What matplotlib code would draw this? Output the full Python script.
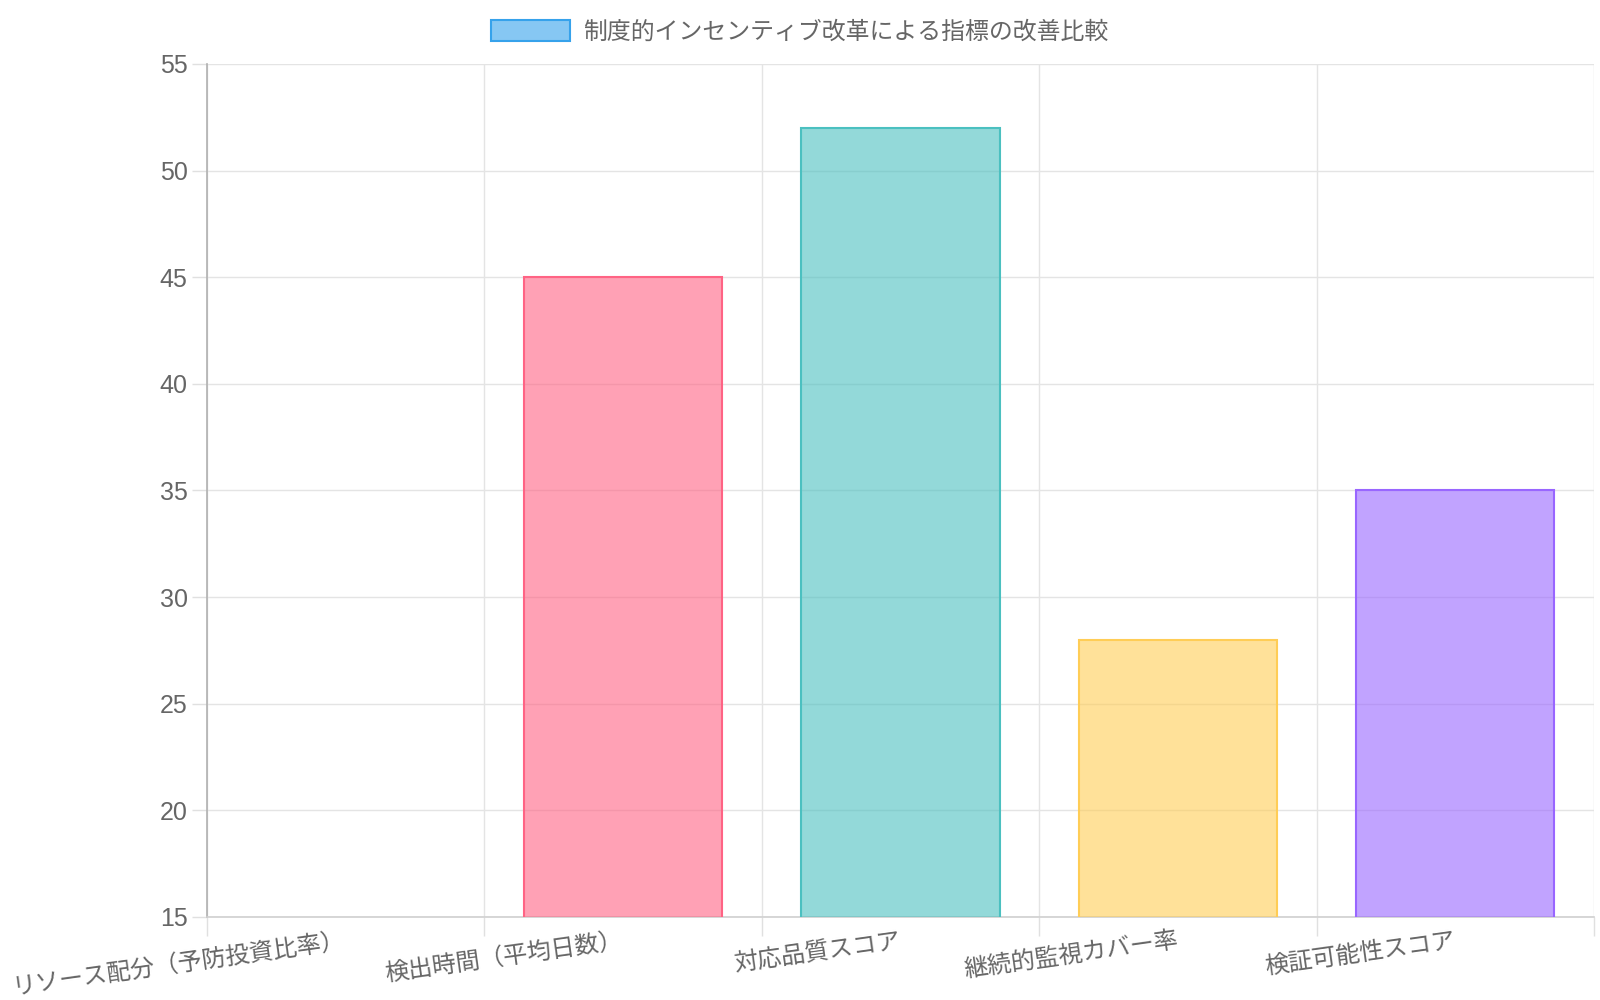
import numpy as np
import matplotlib.pyplot as plt
from matplotlib.patches import Patch

plt.rcParams['font.family'] = ['Liberation Sans', 'Noto Sans CJK JP', 'DejaVu Sans']

# データ
categories = [
    'リソース配分（予防投資比率）',
    '検出時間（平均日数）',
    '対応品質スコア',
    '継続的監視カバー率',
    '検証可能性スコア',
]
values = [12, 45, 52, 28, 35]
legend_label = '制度的インセンティブ改革による指標の改善比較'
yticks = [15, 20, 25, 30, 35, 40, 45, 50, 55]

fills = [
    (54/255, 162/255, 235/255, 0.6),
    (255/255, 99/255, 132/255, 0.6),
    (75/255, 192/255, 192/255, 0.6),
    (255/255, 205/255, 86/255, 0.6),
    (153/255, 102/255, 255/255, 0.6),
]
edges = ['#36a2eb', '#ff6384', '#4bc0c0', '#ffcd56', '#9966ff']

W, H = 1600, 1000
fig = plt.figure(figsize=(16, 10), dpi=100)
left, right, top, bottom = 207, 1594, 64, 917
ax = fig.add_axes([left/W, 1 - bottom/H, (right-left)/W, (bottom-top)/H])

x = np.arange(len(categories))
ax.bar(x, values, width=0.715, color=fills, edgecolor=edges, linewidth=1.5, zorder=3)

ax.set_xlim(-0.5, len(categories) - 0.5)
ax.set_ylim(15, 55)
ax.set_yticks(yticks)
ax.set_yticklabels([str(v) for v in yticks], fontsize=18, color='#666666')

# カテゴリ軸: ラベルは中心、グリッドは境界
ax.set_xticks(x)
ax.set_xticklabels(categories, rotation=8, ha='right', va='center',
                   rotation_mode='anchor', fontsize=17.3, color='#666666')
ax.tick_params(axis='x', which='major', length=0, pad=17)
ax.set_xticks(np.arange(-0.5, len(categories)), minor=True)
ax.tick_params(axis='x', which='minor', length=14, color='#e0e0e0', width=1)
ax.tick_params(axis='y', length=11, color='#e0e0e0', width=1, pad=3)

ax.grid(True, which='minor', axis='x', color='#e4e4e4', linewidth=1, zorder=0)
ax.grid(True, which='major', axis='y', color='#e4e4e4', linewidth=1, zorder=0)

for s in ['top', 'right']:
    ax.spines[s].set_visible(False)
ax.spines['left'].set_color('#b0b0b0')
ax.spines['bottom'].set_color('#d0d0d0')
ax.spines['left'].set_linewidth(1.2)
ax.spines['bottom'].set_linewidth(1.2)

handle = Patch(facecolor=fills[0], edgecolor=edges[0], linewidth=1.5)
fig.legend([handle], [legend_label], loc='center', bbox_to_anchor=(0.5, 1 - 31.5/H),
           frameon=False, fontsize=17.2, handlelength=3.3, handleheight=1.0,
           handletextpad=0.55, labelcolor='#666666')

plt.savefig('out.png', dpi=100)
